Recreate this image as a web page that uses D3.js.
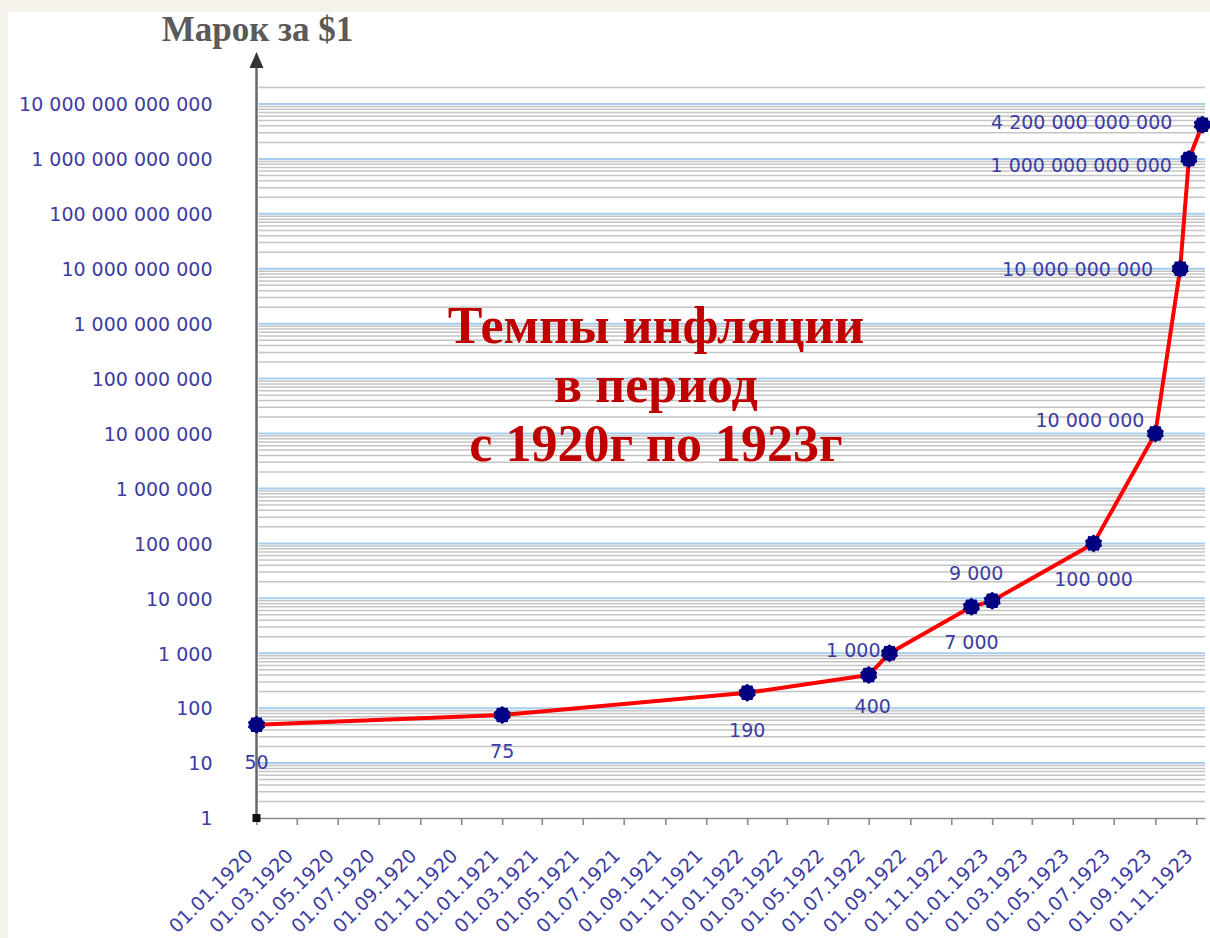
<!DOCTYPE html>
<html>
<head>
<meta charset="utf-8">
<script src="https://cdn.jsdelivr.net/npm/d3@7"></script>
<style>
  body { margin: 0; background: #f6f4ea; }
  svg { display: block; }
</style>
</head>
<body>
<script>
// Data
const pointDates = ['01.01.1920', '01.01.1921', '01.01.1922', '01.07.1922', '01.08.1922', '01.12.1922',
                    '01.01.1923', '01.06.1923', '01.09.1923', '08.10.1923', '21.10.1923', '10.11.1923'];
const marksPerDollar = [50, 75, 190, 400, 1000, 7000, 9000, 100000, 10000000,
                        10000000000, 1000000000000, 4200000000000];

const yTickValues = [1, 10, 100, 1e3, 1e4, 1e5, 1e6, 1e7, 1e8, 1e9, 1e10, 1e11, 1e12, 1e13];
const xTickLabels = ['01.01.1920', '01.03.1920', '01.05.1920', '01.07.1920', '01.09.1920', '01.11.1920',
                     '01.01.1921', '01.03.1921', '01.05.1921', '01.07.1921', '01.09.1921', '01.11.1921',
                     '01.01.1922', '01.03.1922', '01.05.1922', '01.07.1922', '01.09.1922', '01.11.1922',
                     '01.01.1923', '01.03.1923', '01.05.1923', '01.07.1923', '01.09.1923', '01.11.1923'];

const axisTitle = 'Марок за $1';
const chartTitle = ['Темпы инфляции', 'в период', 'с 1920г по 1923г'];

// Where each value label sits relative to its marker (dx, dy, anchor)
const labelOffsets = [
  [0, 44, 'middle'], [0, 43, 'middle'], [0, 44, 'middle'], [4, 38, 'middle'],
  [-9, 4, 'end'], [0, 42, 'middle'], [-16, -21, 'middle'], [0, 43, 'middle'],
  [-11, -7, 'end'], [-27, 7, 'end'], [-17, 13, 'end'], [-30, 4, 'end']
];

(function() {

  const W = 1210, H = 938;
  const left = 256.5, right = 1205, bottom = 818, top13 = 104;
  const labelColor = '#3c3ca2';
  const sans = '"DejaVu Sans", Verdana, sans-serif';
  const serif = '"Liberation Serif", "Times New Roman", serif';

  const parse = d3.utcParse('%d.%m.%Y');
  const fmt = d3.formatLocale({ decimal: ',', thousands: ' ', grouping: [3], currency: ['', ''] }).format(',d');

  const data = pointDates.map((d, i) => ({ date: parse(d), value: marksPerDollar[i] }));

  const svg = d3.select('body').append('svg')
    .attr('width', W)
    .attr('height', H);

  // white chart area on the beige page
  svg.append('rect')
    .attr('x', 8).attr('y', 12)
    .attr('width', W - 8).attr('height', H - 12)
    .attr('fill', '#ffffff');

  const x = d3.scaleUtc()
    .domain([parse('01.01.1920'), parse('14.11.1923')])
    .range([left, right]);

  const y = d3.scaleLog()
    .domain([1, 1e13])
    .range([bottom, top13]);

  // minor gridlines 2..9 of every decade
  const minor = d3.range(0, 14)
    .flatMap(p => d3.range(2, 10).map(m => m * Math.pow(10, p)))
    .filter(v => v <= 2e13);

  svg.append('g')
    .selectAll('line')
    .data(minor)
    .join('line')
    .attr('x1', left + 2).attr('x2', right)
    .attr('y1', d => y(d)).attr('y2', d => y(d))
    .attr('stroke', '#c4c4c4')
    .attr('stroke-width', 1.5);

  svg.append('g')
    .selectAll('line')
    .data(yTickValues.slice(1))
    .join('line')
    .attr('x1', left + 2).attr('x2', right)
    .attr('y1', d => y(d)).attr('y2', d => y(d))
    .attr('stroke', '#a6cdee')
    .attr('stroke-width', 2);

  // x axis
  const xAxis = svg.append('g')
    .attr('transform', `translate(0,${bottom})`)
    .call(d3.axisBottom(x)
      .tickValues(xTickLabels.map(parse))
      .tickFormat(d3.utcFormat('%d.%m.%Y'))
      .tickSize(7)
      .tickSizeOuter(0));

  xAxis.select('.domain').attr('stroke', '#8a8a8a').attr('stroke-width', 1.6);
  xAxis.selectAll('.tick line').attr('stroke', '#8a8a8a').attr('stroke-width', 1.6);
  xAxis.selectAll('.tick text')
    .attr('x', 0).attr('y', 0).attr('dy', 0)
    .attr('transform', 'translate(-3,39) rotate(-45)')
    .style('text-anchor', 'end')
    .style('font-family', sans)
    .style('font-size', '19px')
    .attr('fill', labelColor);

  // y axis labels
  const yAxis = svg.append('g')
    .attr('transform', `translate(${left},0)`)
    .call(d3.axisLeft(y)
      .tickValues(yTickValues)
      .tickFormat(fmt)
      .tickSize(0)
      .tickPadding(44));

  yAxis.select('.domain').remove();
  yAxis.selectAll('.tick text')
    .attr('dy', '0.36em')
    .style('font-family', sans)
    .style('font-size', '19px')
    .attr('fill', labelColor);

  // vertical axis with arrow
  svg.append('line')
    .attr('x1', left).attr('x2', left)
    .attr('y1', bottom + 2).attr('y2', 64)
    .attr('stroke', '#666666')
    .attr('stroke-width', 2.5);

  svg.append('path')
    .attr('d', `M${left},52 L${left - 7},68 L${left + 7},68 Z`)
    .attr('fill', '#333333');

  svg.append('rect')
    .attr('x', left - 4).attr('y', bottom - 4)
    .attr('width', 8).attr('height', 8)
    .attr('fill', '#111111');

  // the red line
  const line = d3.line()
    .x(d => x(d.date))
    .y(d => y(d.value));

  svg.append('path')
    .datum(data)
    .attr('d', line)
    .attr('fill', 'none')
    .attr('stroke', '#ff0000')
    .attr('stroke-width', 4)
    .attr('stroke-linejoin', 'round');

  // jagged navy markers
  const gear = d3.lineRadial()
    .curve(d3.curveLinearClosed)(d3.range(20).map(i => [i * Math.PI / 10, i % 2 ? 7.6 : 9]));

  svg.append('g')
    .selectAll('path')
    .data(data)
    .join('path')
    .attr('transform', d => `translate(${x(d.date)},${y(d.value)})`)
    .attr('d', gear)
    .attr('fill', '#000080');

  // value labels
  svg.append('g')
    .selectAll('text')
    .data(data)
    .join('text')
    .attr('x', (d, i) => x(d.date) + labelOffsets[i][0])
    .attr('y', (d, i) => y(d.value) + labelOffsets[i][1])
    .attr('text-anchor', (d, i) => labelOffsets[i][2])
    .style('font-family', sans)
    .style('font-size', '19px')
    .attr('fill', labelColor)
    .text(d => fmt(d.value));

  // titles
  svg.append('text')
    .attr('x', left + 1).attr('y', 41)
    .attr('text-anchor', 'middle')
    .style('font-family', serif)
    .style('font-weight', 'bold')
    .style('font-size', '35px')
    .attr('fill', '#5a5a5a')
    .text(axisTitle);

  svg.append('g')
    .selectAll('text')
    .data(chartTitle)
    .join('text')
    .attr('x', 656)
    .attr('y', (d, i) => 343 + i * 59)
    .attr('text-anchor', 'middle')
    .style('font-family', serif)
    .style('font-weight', 'bold')
    .style('font-size', '52px')
    .attr('fill', '#c00000')
    .text(d => d);

})();
</script>
</body>
</html>
